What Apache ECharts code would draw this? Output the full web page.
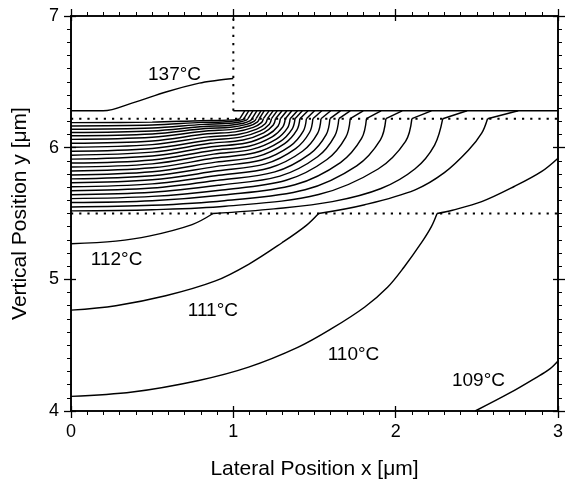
<!DOCTYPE html>
<html><head><meta charset="utf-8">
<script src="https://cdn.jsdelivr.net/npm/echarts@6/dist/echarts.min.js"></script>
<style>html,body{margin:0;padding:0;background:#fff}#c{width:566px;height:485px}</style>
</head><body><div id="c"></div>
<script>
// ---- data (x, y in µm) ----
const xTitle = 'Lateral Position x [μm]';
const yTitle = 'Vertical Position y [μm]';
const layerTopY = 6.22;     // upper dotted interface
const layerBottomY = 5.5;   // lower dotted interface
const heaterY = 6.28;       // heater bottom (solid)
const heaterEdgeX = 1;      // heater edge (dotted vertical)

// isotherms 113..136 °C inside the layer
const midLevels = [113,114,115,116,117,118,119,120,121,122,123,124,125,126,127,128,129,130,131,132,133,134,135,136];
const midPaths = [
 [[0,5.52],[0.5,5.529],[0.95,5.555],[1.525,5.644],[1.892,5.838],[2.061,6.048],[2.1,6.22]],
 [[0,5.55],[0.5,5.562],[0.944,5.597],[1.442,5.68],[1.76,5.862],[1.906,6.059],[1.94,6.22]],
 [[0,5.583],[0.5,5.597],[0.937,5.64],[1.379,5.718],[1.66,5.887],[1.79,6.07],[1.82,6.22]],
 [[0,5.613],[0.5,5.63],[0.93,5.679],[1.325,5.752],[1.577,5.91],[1.693,6.08],[1.72,6.22]],
 [[0,5.643],[0.5,5.662],[0.924,5.717],[1.287,5.784],[1.519,5.931],[1.625,6.09],[1.65,6.22]],
 [[0,5.673],[0.5,5.693],[0.918,5.754],[1.256,5.816],[1.472,5.953],[1.572,6.099],[1.595,6.22]],
 [[0,5.703],[0.5,5.725],[0.911,5.79],[1.226,5.848],[1.426,5.973],[1.519,6.109],[1.54,6.22]],
 [[0,5.733],[0.5,5.756],[0.905,5.824],[1.197,5.877],[1.384,5.993],[1.47,6.117],[1.49,6.22]],
 [[0,5.763],[0.5,5.787],[0.898,5.858],[1.174,5.906],[1.35,6.012],[1.431,6.126],[1.45,6.22]],
 [[0,5.793],[0.5,5.817],[0.892,5.89],[1.151,5.934],[1.316,6.031],[1.392,6.135],[1.41,6.22]],
 [[0,5.823],[0.5,5.847],[0.885,5.921],[1.133,5.961],[1.29,6.048],[1.363,6.143],[1.38,6.22]],
 [[0,5.853],[0.5,5.877],[0.879,5.951],[1.114,5.987],[1.265,6.065],[1.334,6.15],[1.35,6.22]],
 [[0,5.883],[0.5,5.907],[0.872,5.979],[1.096,6.011],[1.239,6.082],[1.305,6.158],[1.32,6.22]],
 [[0,5.913],[0.5,5.936],[0.866,6.007],[1.078,6.035],[1.213,6.098],[1.276,6.165],[1.29,6.22]],
 [[0,5.943],[0.5,5.966],[0.859,6.033],[1.06,6.058],[1.187,6.113],[1.246,6.172],[1.26,6.22]],
 [[0,5.973],[0.5,5.994],[0.853,6.058],[1.044,6.08],[1.166,6.127],[1.222,6.178],[1.235,6.22]],
 [[0,6.003],[0.5,6.023],[0.846,6.082],[1.028,6.1],[1.144,6.141],[1.198,6.184],[1.21,6.22]],
 [[0,6.033],[0.5,6.051],[0.84,6.105],[1.012,6.12],[1.123,6.154],[1.173,6.19],[1.185,6.22]],
 [[0,6.063],[0.5,6.079],[0.833,6.126],[0.997,6.139],[1.101,6.166],[1.149,6.196],[1.16,6.22]],
 [[0,6.09],[0.5,6.104],[0.827,6.145],[0.983,6.155],[1.083,6.177],[1.129,6.201],[1.14,6.22]],
 [[0,6.115],[0.5,6.127],[0.82,6.161],[0.968,6.169],[1.062,6.186],[1.105,6.205],[1.115,6.22]],
 [[0,6.14],[0.5,6.149],[0.814,6.177],[0.952,6.183],[1.04,6.195],[1.081,6.209],[1.09,6.22]],
 [[0,6.165],[0.5,6.172],[0.807,6.192],[0.936,6.195],[1.018,6.204],[1.056,6.213],[1.065,6.22]],
 [[0,6.19],[0.5,6.194],[0.8,6.205],[0.92,6.207],[0.997,6.211],[1.032,6.216],[1.04,6.22]]
];
// short segments from the upper interface to the heater bottom
const midTopStartX = [2.1,1.94,1.82,1.72,1.65,1.595,1.54,1.49,1.45,1.41,1.38,1.35,1.32,1.29,1.26,1.235,1.21,1.185,1.16,1.14,1.115,1.09,1.065,1.04];
const midTopEndX   = [2.22,2.04,1.91,1.80,1.72,1.66,1.60,1.545,1.50,1.46,1.425,1.395,1.36,1.33,1.30,1.27,1.245,1.22,1.19,1.17,1.145,1.12,1.095,1.07];

const c137 = [[0,6.28],[0.198,6.28],[0.38,6.34],[0.59,6.425],[0.79,6.49],[0.894,6.51],[1.0,6.525]];
const c112Low = [[0,5.27],[0.276,5.29],[0.48,5.328],[0.746,5.416],[0.875,5.5]];
const c112Mid = [[0.875,5.5],[1.25,5.535],[1.61,5.59],[1.91,5.69],[2.12,5.84],[2.24,6.02],[2.29,6.22]];
const c112Top = [[2.29,6.22],[2.44,6.28]];
const c111Low = [[0,4.766],[0.276,4.8],[0.583,4.875],[0.89,4.988],[1.094,5.114],[1.3,5.278],[1.45,5.41],[1.525,5.5]];
const c111Mid = [[1.525,5.5],[1.81,5.567],[2.12,5.68],[2.3,5.81],[2.448,5.98],[2.53,6.11],[2.566,6.22]];
const c111Top = [[2.566,6.22],[2.755,6.28]];
const c110Low = [[0,4.111],[0.378,4.144],[0.787,4.232],[1.094,4.333],[1.4,4.485],[1.605,4.625],[1.81,4.79],[1.95,4.94],[2.05,5.09],[2.16,5.28],[2.22,5.4],[2.255,5.5]];
const c110Mid = [[2.255,5.5],[2.35,5.525],[2.53,5.59],[2.73,5.705],[2.9,5.82],[3.0,5.92]];
const c109 = [[2.49,4.0],[2.7,4.135],[2.86,4.25],[2.95,4.32],[3.0,4.38]];

const labelText = ['137°C','112°C','111°C','110°C','109°C'];
const labelX = [0.638,0.281,0.874,1.74,2.51];
const labelY = [6.55,5.152,4.761,4.43,4.23];

// ---- chart ----
const FONT = '"Liberation Sans", Arial, Helvetica, sans-serif';
const black = '#000';
function curve(data, smooth) {
  return {type:'line', data:data, smooth:smooth, symbol:'none', silent:true,
    lineStyle:{color:black, width:1.45}, xAxisIndex:0, yAxisIndex:0, z:3};
}
function dotted(data) {
  return {type:'line', data:data, symbol:'none', silent:true,
    lineStyle:{color:black, width:2, type:[2.2,6]}, xAxisIndex:0, yAxisIndex:0, z:2};
}
const series = [];
midPaths.forEach(p => series.push(curve(p, 0.35)));
midTopStartX.forEach((x, i) => series.push(curve([[x, layerTopY], [midTopEndX[i], heaterY]], false)));
[c137, c112Low, c112Mid, c111Low, c111Mid, c110Low, c110Mid, c109].forEach(p => series.push(curve(p, 0.35)));
[c112Top, c111Top].forEach(p => series.push(curve(p, false)));
series.push(curve([[heaterEdgeX, heaterY], [3, heaterY]], false));
series.push(dotted([[heaterEdgeX, heaterY], [heaterEdgeX, 7]]));
series.push(dotted([[0, layerTopY], [3, layerTopY]]));
series.push(dotted([[0, layerBottomY], [3, layerBottomY]]));
series.push({type:'scatter', silent:true, symbolSize:0, xAxisIndex:0, yAxisIndex:0, z:5,
  itemStyle:{color:black},
  data: labelX.map((x, i) => [x, labelY[i], labelText[i]]),
  label:{show:true, position:[0,0], align:'center', verticalAlign:'middle',
    formatter:p => p.data[2], fontSize:19, color:'#000', textBorderWidth:0,
    opacity:1, fontFamily:FONT}});

function axis(kind, pos, main, inward) {
  const isX = kind === 'x';
  return {
    type:'value', min: isX ? 0 : 4, max: isX ? 3 : 7, interval:1, position:pos,
    axisLine:{show:true, onZero:false, lineStyle:{color:black, width:1.6}},
    axisTick:{show:true, inside:inward, length: inward ? 5 : 7, lineStyle:{color:black, width:1.3}},
    minorTick:{show:!inward, splitNumber:10, length:4, lineStyle:{color:black, width:1}},
    splitLine:{show:false}, minorSplitLine:{show:false},
    axisLabel:{show:main, fontSize:18, margin:12, color:black, fontFamily:FONT},
    name: main ? (isX ? xTitle : yTitle) : '', nameLocation:'middle', nameGap: isX ? 48 : 40,
    nameTextStyle:{fontSize:21, color:black, fontFamily:FONT}
  };
}
const chart = echarts.init(document.getElementById('c'), null, {renderer:'canvas'});
chart.setOption({
  animation:false,
  backgroundColor:'#fff',
  grid:{left:71, right:7, top:16, bottom:72, containLabel:false},
  xAxis:[axis('x','bottom',true,false), axis('x','bottom',false,true), axis('x','top',false,false), axis('x','top',false,true)],
  yAxis:[axis('y','left',true,false), axis('y','left',false,true), axis('y','right',false,false), axis('y','right',false,true)],
  series: series
});
</script></body></html>
